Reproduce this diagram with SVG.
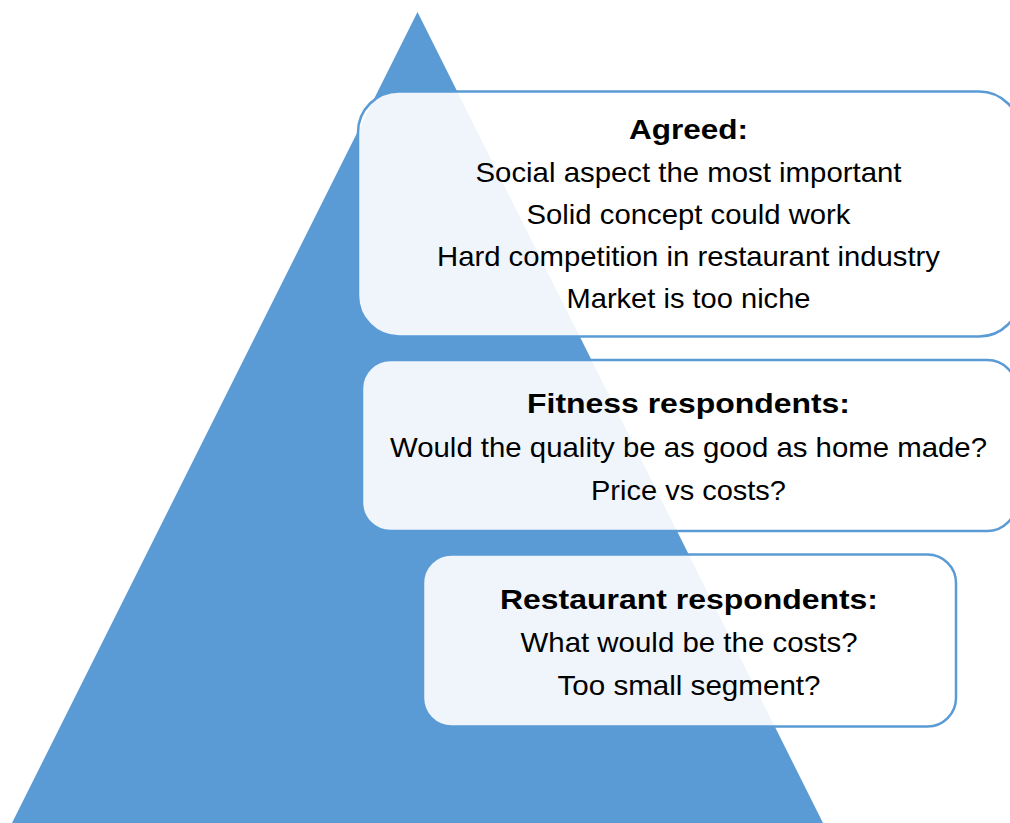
<svg xmlns="http://www.w3.org/2000/svg" width="1010" height="823" viewBox="0 0 1010 823">
  <style>
    .box { fill: #ffffff; fill-opacity: 0.9; stroke: #5b9bd5; stroke-width: 2.5; }
    .t { font-family: "Liberation Sans", Arial, sans-serif; font-size: 28px; fill: #000000; text-anchor: middle; }
    .h { font-weight: bold; }
  </style>
  <rect width="1010" height="823" fill="#ffffff"/>
  <!-- pyramid background -->
  <polygon id="pyramid" points="417.5,12 12,823 823,823" fill="#5b9bd5"/>
  <g id="connectors"/>
  <g id="node-agreed">
    <rect class="box" x="358" y="91.5" width="662" height="245" rx="41" ry="41"/>
    <text class="t h" x="688.5" y="139" textLength="119" lengthAdjust="spacingAndGlyphs">Agreed:</text>
    <text class="t" x="688.5" y="181.5" textLength="426" lengthAdjust="spacingAndGlyphs">Social aspect the most important</text>
    <text class="t" x="688.5" y="223.5" textLength="324" lengthAdjust="spacingAndGlyphs">Solid concept could work</text>
    <text class="t" x="688.5" y="266" textLength="503" lengthAdjust="spacingAndGlyphs">Hard competition in restaurant industry</text>
    <text class="t" x="688.5" y="308" textLength="244" lengthAdjust="spacingAndGlyphs">Market is too niche</text>
  </g>
  <g id="node-fitness">
    <rect class="box" x="362" y="360" width="654" height="171" rx="28.5" ry="28.5"/>
    <text class="t h" x="688.5" y="413" textLength="323" lengthAdjust="spacingAndGlyphs">Fitness respondents:</text>
    <text class="t" x="688.5" y="456.5" textLength="597" lengthAdjust="spacingAndGlyphs">Would the quality be as good as home made?</text>
    <text class="t" x="688.5" y="499.5" textLength="195" lengthAdjust="spacingAndGlyphs">Price vs costs?</text>
  </g>
  <g id="node-restaurant">
    <rect class="box" x="423" y="554.5" width="533" height="172" rx="28.5" ry="28.5"/>
    <text class="t h" x="689" y="608.5" textLength="378" lengthAdjust="spacingAndGlyphs">Restaurant respondents:</text>
    <text class="t" x="689" y="652" textLength="337" lengthAdjust="spacingAndGlyphs">What would be the costs?</text>
    <text class="t" x="689" y="695" textLength="263" lengthAdjust="spacingAndGlyphs">Too small segment?</text>
  </g>
</svg>
